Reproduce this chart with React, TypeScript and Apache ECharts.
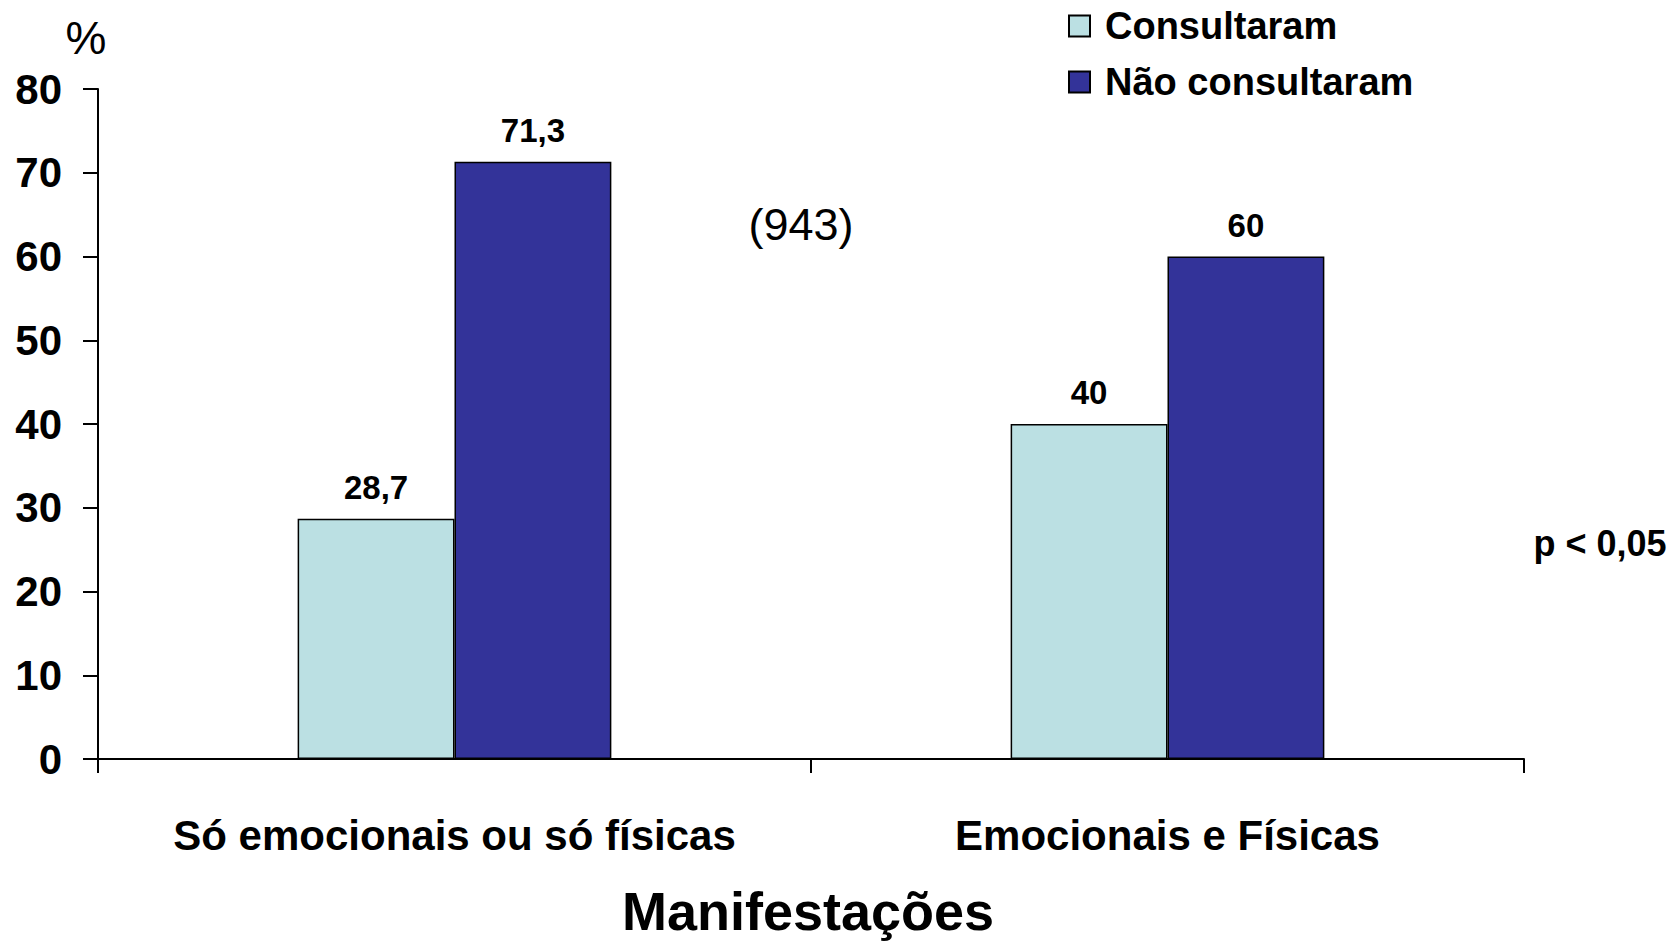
import React, { useEffect, useRef } from "react";
import * as echarts from "echarts";

const categories = ["Só emocionais ou só físicas", "Emocionais e Físicas"];
const consultaram = [28.7, 40];
const naoConsultaram = [71.3, 60];
const yTicks = { min: 0, max: 80, interval: 10 };
const seriesNames = ["Consultaram", "Não consultaram"];
const xAxisTitle = "Manifestações";
const yUnit = "%";
const sampleNote = "(943)";
const pNote = "p < 0,05";

const FONT = "'Liberation Sans', Arial, Helvetica, sans-serif";

export default function App() {
  const ref = useRef<HTMLDivElement>(null);
  useEffect(() => {
    if (!ref.current) return;
    const chart = echarts.init(ref.current, null, { renderer: "svg" });
    const labelFmt = (p: any) => String(p.value).replace(".", ",");
    const barLabel = {
      show: true,
      position: "top",
      distance: 15,
      formatter: labelFmt,
      color: "#000",
      fontFamily: FONT,
      fontWeight: "bold",
      fontSize: 33,
    };
    chart.setOption({
      animation: false,
      backgroundColor: "#ffffff",
      textStyle: { fontFamily: FONT },
      grid: { left: 98, right: 156, top: 89, bottom: 185, containLabel: false },
      legend: {
        orient: "vertical",
        left: 1068,
        top: 7,
        itemWidth: 21,
        itemHeight: 21,
        itemGap: 18,
        padding: 0,
        selectedMode: false,
        icon: "rect",
        textStyle: {
          fontFamily: FONT,
          fontWeight: "bold",
          fontSize: 38,
          color: "#000",
          padding: [0, 0, 0, 10],
        },
        data: seriesNames,
      },
      xAxis: {
        type: "category",
        data: categories,
        boundaryGap: true,
        axisLine: { show: true, lineStyle: { color: "#000", width: 2 } },
        axisTick: { show: true, length: 14, lineStyle: { color: "#000", width: 2 } },
        axisLabel: {
          margin: 55,
          color: "#000",
          fontFamily: FONT,
          fontWeight: "bold",
          fontSize: 42,
          interval: 0,
        },
        splitLine: { show: false },
      },
      yAxis: {
        type: "value",
        min: yTicks.min,
        max: yTicks.max,
        interval: yTicks.interval,
        axisLine: { show: true, lineStyle: { color: "#000", width: 2 } },
        axisTick: { show: true, length: 15, lineStyle: { color: "#000", width: 2 } },
        axisLabel: {
          margin: 36,
          color: "#000",
          fontFamily: FONT,
          fontWeight: "bold",
          fontSize: 42,
        },
        splitLine: { show: false },
      },
      series: [
        {
          name: seriesNames[0],
          type: "bar",
          data: consultaram,
          barGap: "0%",
          barCategoryGap: "56%",
          itemStyle: { color: "#BBE0E3", borderColor: "#000", borderWidth: 1.5 },
          label: barLabel,
        },
        {
          name: seriesNames[1],
          type: "bar",
          data: naoConsultaram,
          barGap: "0%",
          barCategoryGap: "56%",
          itemStyle: { color: "#333399", borderColor: "#000", borderWidth: 1.5 },
          label: barLabel,
        },
      ],
      graphic: [
        {
          type: "text",
          x: 86,
          y: 38,
          style: {
            text: yUnit,
            font: `normal 46px ${FONT}`,
            fill: "#000",
            textAlign: "center",
            textVerticalAlign: "middle",
          },
        },
        {
          type: "text",
          x: 801,
          y: 224,
          style: {
            text: sampleNote,
            font: `normal 45px ${FONT}`,
            fill: "#000",
            textAlign: "center",
            textVerticalAlign: "middle",
          },
        },
        {
          type: "text",
          x: 1600,
          y: 543,
          style: {
            text: pNote,
            font: `bold 36px ${FONT}`,
            fill: "#000",
            textAlign: "center",
            textVerticalAlign: "middle",
          },
        },
        {
          type: "text",
          x: 808,
          y: 911,
          style: {
            text: xAxisTitle,
            font: `bold 54px ${FONT}`,
            fill: "#000",
            textAlign: "center",
            textVerticalAlign: "middle",
          },
        },
      ],
    });
    return () => chart.dispose();
  }, []);
  return (
    <div
      ref={ref}
      style={{ position: "fixed", left: 0, top: 0, width: 1680, height: 944, background: "#fff" }}
    />
  );
}
